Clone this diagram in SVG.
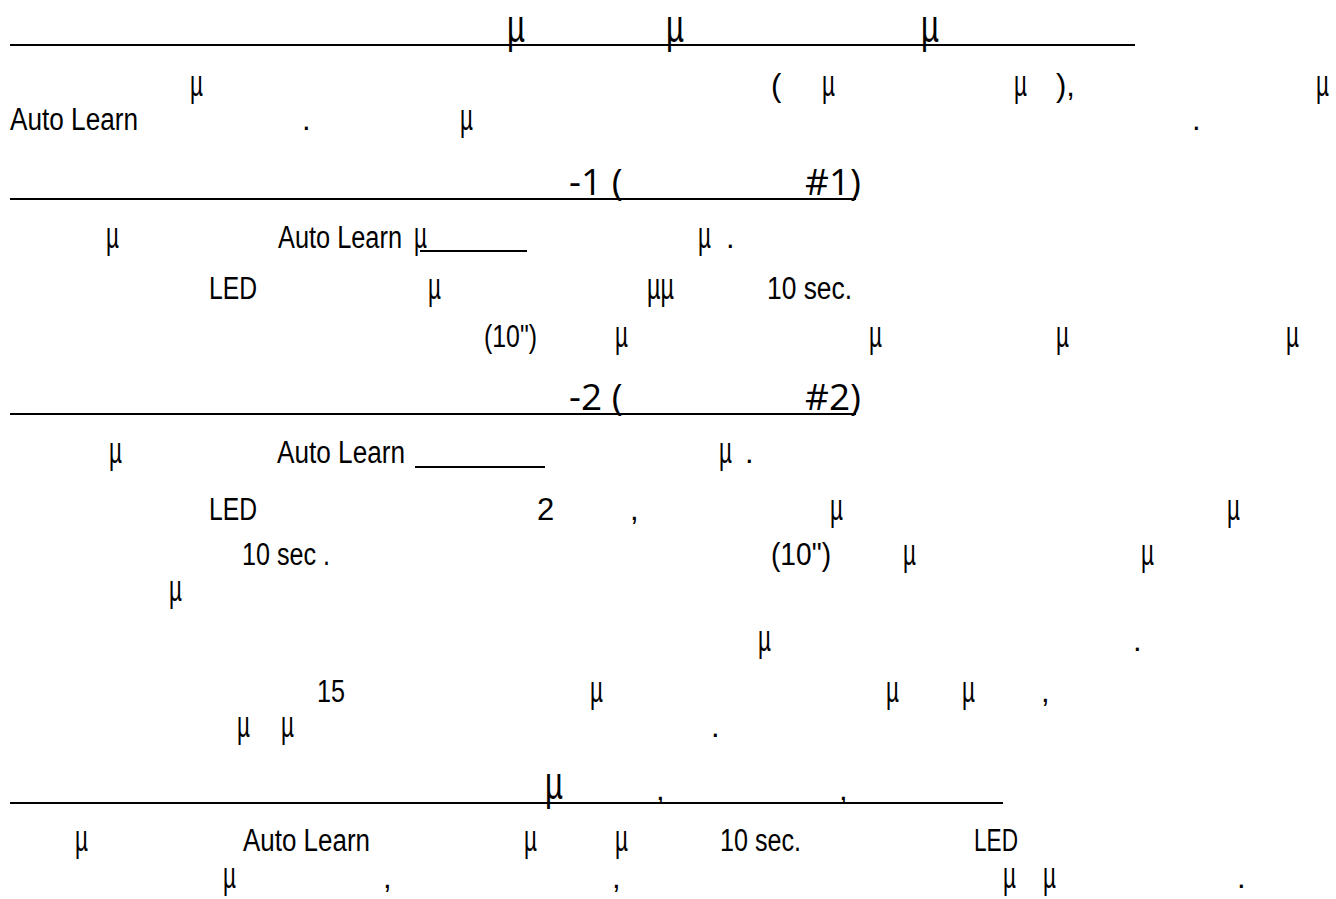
<svg xmlns="http://www.w3.org/2000/svg" width="1336" height="899" viewBox="0 0 1336 899">
<style>
text{fill:#000;font-family:"Liberation Sans",Arial,sans-serif}
.b{font-size:31px}
.u{font-size:37px}
.m{font-size:46px}
.h{font-family:"Open Sans","Liberation Sans",sans-serif;font-size:37px}
.r{stroke:#000;stroke-width:2;fill:none}
</style>
<rect width="1336" height="899" fill="#fff"/>
<g id="title1">
<line class="r" x1="10" y1="45" x2="1135" y2="45"/>
<text class="m" x="507" y="42" textLength="18" lengthAdjust="spacingAndGlyphs">µ</text>
<text class="m" x="666" y="42" textLength="18" lengthAdjust="spacingAndGlyphs">µ</text>
<text class="m" x="921" y="42" textLength="18" lengthAdjust="spacingAndGlyphs">µ</text>
</g>
<g id="intro">
<text class="u" x="190" y="96" textLength="13" lengthAdjust="spacingAndGlyphs">µ</text>
<text class="b" x="771" y="96">(</text>
<text class="u" x="822" y="96" textLength="13" lengthAdjust="spacingAndGlyphs">µ</text>
<text class="u" x="1014" y="96" textLength="13" lengthAdjust="spacingAndGlyphs">µ</text>
<text class="b" x="1056" y="96">),</text>
<text class="u" x="1316" y="96" textLength="13" lengthAdjust="spacingAndGlyphs">µ</text>
<text class="b" x="10" y="130" textLength="128" lengthAdjust="spacingAndGlyphs">Auto Learn</text>
<text class="b" x="302" y="130">.</text>
<text class="u" x="460" y="130" textLength="13" lengthAdjust="spacingAndGlyphs">µ</text>
<text class="b" x="1192" y="130">.</text>
</g>
<g id="title2">
<line class="r" x1="10" y1="199" x2="856" y2="199"/>
<text class="h" x="569" y="195">-1 (</text>
<text class="h" x="805" y="195">#1)</text>
</g>
<g id="sec1">
<text class="u" x="106" y="248" textLength="13" lengthAdjust="spacingAndGlyphs">µ</text>
<text class="b" x="278" y="248" textLength="124" lengthAdjust="spacingAndGlyphs">Auto Learn</text>
<text class="u" x="414" y="248" textLength="13" lengthAdjust="spacingAndGlyphs">µ</text>
<line class="r" x1="420" y1="251" x2="527" y2="251"/>
<text class="u" x="698" y="248" textLength="13" lengthAdjust="spacingAndGlyphs">µ</text>
<text class="b" x="726" y="248">.</text>
<text class="b" x="209" y="299" textLength="48" lengthAdjust="spacingAndGlyphs">LED</text>
<text class="u" x="428" y="299" textLength="13" lengthAdjust="spacingAndGlyphs">µ</text>
<text class="u" x="647" y="299" textLength="27" lengthAdjust="spacingAndGlyphs">µµ</text>
<text class="b" x="767" y="299" textLength="85" lengthAdjust="spacingAndGlyphs">10 sec.</text>
<text class="b" x="484" y="347" textLength="53" lengthAdjust="spacingAndGlyphs">(10")</text>
<text class="u" x="615" y="347" textLength="13" lengthAdjust="spacingAndGlyphs">µ</text>
<text class="u" x="869" y="347" textLength="13" lengthAdjust="spacingAndGlyphs">µ</text>
<text class="u" x="1056" y="347" textLength="13" lengthAdjust="spacingAndGlyphs">µ</text>
<text class="u" x="1286" y="347" textLength="13" lengthAdjust="spacingAndGlyphs">µ</text>
</g>
<g id="title3">
<line class="r" x1="10" y1="414" x2="856" y2="414"/>
<text class="h" x="569" y="410">-2 (</text>
<text class="h" x="805" y="410">#2)</text>
</g>
<g id="sec2">
<text class="u" x="109" y="463" textLength="13" lengthAdjust="spacingAndGlyphs">µ</text>
<text class="b" x="277" y="463" textLength="128" lengthAdjust="spacingAndGlyphs">Auto Learn</text>
<line class="r" x1="415" y1="467" x2="545" y2="467"/>
<text class="u" x="719" y="463" textLength="13" lengthAdjust="spacingAndGlyphs">µ</text>
<text class="b" x="745" y="463">.</text>
<text class="b" x="209" y="520" textLength="48" lengthAdjust="spacingAndGlyphs">LED</text>
<text class="b" x="537" y="520">2</text>
<text class="b" x="630" y="520">,</text>
<text class="u" x="830" y="520" textLength="13" lengthAdjust="spacingAndGlyphs">µ</text>
<text class="u" x="1227" y="520" textLength="13" lengthAdjust="spacingAndGlyphs">µ</text>
<text class="b" x="242" y="565" textLength="88" lengthAdjust="spacingAndGlyphs">10 sec .</text>
<text class="b" x="771" y="565" textLength="60" lengthAdjust="spacingAndGlyphs">(10")</text>
<text class="u" x="903" y="565" textLength="13" lengthAdjust="spacingAndGlyphs">µ</text>
<text class="u" x="1141" y="565" textLength="13" lengthAdjust="spacingAndGlyphs">µ</text>
<text class="u" x="169" y="601" textLength="13" lengthAdjust="spacingAndGlyphs">µ</text>
<text class="u" x="758" y="651" textLength="13" lengthAdjust="spacingAndGlyphs">µ</text>
<text class="b" x="1133" y="651">.</text>
<text class="b" x="317" y="702" textLength="28" lengthAdjust="spacingAndGlyphs">15</text>
<text class="u" x="590" y="702" textLength="13" lengthAdjust="spacingAndGlyphs">µ</text>
<text class="u" x="886" y="702" textLength="13" lengthAdjust="spacingAndGlyphs">µ</text>
<text class="u" x="962" y="702" textLength="13" lengthAdjust="spacingAndGlyphs">µ</text>
<text class="b" x="1041" y="702">,</text>
<text class="u" x="237" y="737" textLength="13" lengthAdjust="spacingAndGlyphs">µ</text>
<text class="u" x="281" y="737" textLength="13" lengthAdjust="spacingAndGlyphs">µ</text>
<text class="b" x="711" y="737">.</text>
</g>
<g id="title4">
<line class="r" x1="10" y1="803" x2="1003" y2="803"/>
<text class="m" x="545" y="799" textLength="18" lengthAdjust="spacingAndGlyphs">µ</text>
<text class="b" x="656" y="800">,</text>
<text class="b" x="839" y="800">,</text>
</g>
<g id="sec3">
<text class="u" x="75" y="851" textLength="13" lengthAdjust="spacingAndGlyphs">µ</text>
<text class="b" x="243" y="851" textLength="127" lengthAdjust="spacingAndGlyphs">Auto Learn</text>
<text class="u" x="524" y="851" textLength="13" lengthAdjust="spacingAndGlyphs">µ</text>
<text class="u" x="615" y="851" textLength="13" lengthAdjust="spacingAndGlyphs">µ</text>
<text class="b" x="720" y="851" textLength="81" lengthAdjust="spacingAndGlyphs">10 sec.</text>
<text class="b" x="974" y="851" textLength="44" lengthAdjust="spacingAndGlyphs">LED</text>
<text class="u" x="223" y="888" textLength="13" lengthAdjust="spacingAndGlyphs">µ</text>
<text class="b" x="383" y="888">,</text>
<text class="b" x="612" y="888">,</text>
<text class="u" x="1003" y="888" textLength="13" lengthAdjust="spacingAndGlyphs">µ</text>
<text class="u" x="1043" y="888" textLength="13" lengthAdjust="spacingAndGlyphs">µ</text>
<text class="b" x="1237" y="888">.</text>
</g>
</svg>
